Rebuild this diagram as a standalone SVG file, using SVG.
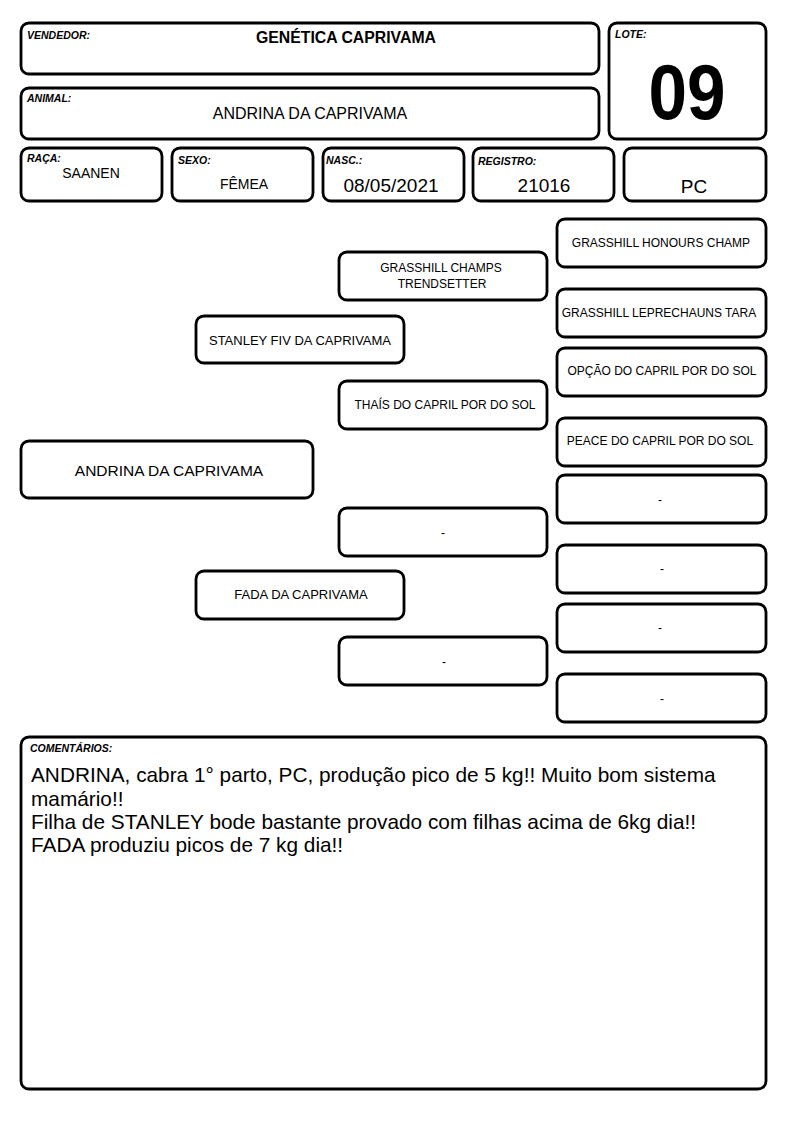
<svg xmlns="http://www.w3.org/2000/svg" width="794" height="1123" viewBox="0 0 794 1123">
<style>
.b{fill:#fff;stroke:#000;stroke-width:2.8}
.lbl{font-family:"Liberation Sans",Arial,sans-serif;font-size:10.5px;font-weight:bold;font-style:italic;fill:#000}
.t{font-family:"Liberation Sans",Arial,sans-serif;fill:#000;text-anchor:middle}
.p{font-family:"Liberation Sans",Arial,sans-serif;font-size:12px;fill:#000;text-anchor:middle}
.c{font-family:"Liberation Sans",Arial,sans-serif;font-size:20.8px;fill:#000}
</style>
<rect width="794" height="1123" fill="#fff"/>
<g id="vendedor"><rect class="b" x="21" y="23" width="578" height="51" rx="8"/><text class="lbl" x="27" y="39">VENDEDOR:</text><text class="t" x="346" y="43" font-size="15.8" font-weight="bold">GENÉTICA CAPRIVAMA</text></g>
<g id="animal"><rect class="b" x="21" y="88" width="578" height="51" rx="8"/><text class="lbl" x="27" y="102">ANIMAL:</text><text class="t" x="310" y="119" font-size="16">ANDRINA DA CAPRIVAMA</text></g>
<g id="lote"><rect class="b" x="609" y="23" width="157" height="116" rx="8"/><text class="lbl" x="615" y="38">LOTE:</text><text class="t" x="687" y="119" font-size="78" font-weight="bold" textLength="77" lengthAdjust="spacingAndGlyphs">09</text></g>
<g id="raca"><rect class="b" x="21" y="148" width="141" height="53" rx="8"/><text class="lbl" x="27" y="162">RAÇA:</text><text class="t" x="91" y="178" font-size="14">SAANEN</text></g>
<g id="sexo"><rect class="b" x="172" y="148" width="141" height="53" rx="8"/><text class="lbl" x="178" y="164">SEXO:</text><text class="t" x="244" y="189" font-size="14">FÊMEA</text></g>
<g id="nasc"><rect class="b" x="323" y="148" width="141" height="53" rx="8"/><text class="lbl" x="326" y="164">NASC.:</text><text class="t" x="391" y="192" font-size="19">08/05/2021</text></g>
<g id="registro"><rect class="b" x="473" y="148" width="141" height="53" rx="8"/><text class="lbl" x="478" y="165">REGISTRO:</text><text class="t" x="544" y="192" font-size="19">21016</text></g>
<g id="pc"><rect class="b" x="624" y="148" width="142" height="53" rx="8"/><text class="t" x="694" y="193" font-size="19">PC</text></g>

<g id="connectors"></g>

<g id="n-andrina"><rect class="b" x="21" y="441" width="292" height="57" rx="8"/><text class="t" x="169" y="476" font-size="15.5">ANDRINA DA CAPRIVAMA</text></g>
<g id="n-stanley"><rect class="b" x="196" y="316" width="208" height="47" rx="8"/><text class="t" x="300" y="345" font-size="13">STANLEY FIV DA CAPRIVAMA</text></g>
<g id="n-fada"><rect class="b" x="196" y="571" width="208" height="48" rx="8"/><text class="t" x="301" y="599" font-size="13">FADA DA CAPRIVAMA</text></g>
<g id="n-champs"><rect class="b" x="339" y="252" width="208" height="48" rx="8"/><text class="p" x="441" y="272">GRASSHILL CHAMPS</text><text class="p" x="442" y="288">TRENDSETTER</text></g>
<g id="n-thais"><rect class="b" x="339" y="381" width="208" height="48" rx="8"/><text class="p" x="445" y="409">THAÍS DO CAPRIL POR DO SOL</text></g>
<g id="n-m3"><rect class="b" x="339" y="508" width="208" height="48" rx="8"/><text class="p" x="443" y="537">-</text></g>
<g id="n-m4"><rect class="b" x="339" y="637" width="208" height="48" rx="8"/><text class="p" x="444" y="666">-</text></g>
<g id="n-honours"><rect class="b" x="557" y="219" width="209" height="48" rx="8"/><text class="p" x="661" y="247" font-size="12.8">GRASSHILL HONOURS CHAMP</text></g>
<g id="n-tara"><rect class="b" x="557" y="289" width="209" height="48" rx="8"/><text class="p" x="659" y="317">GRASSHILL LEPRECHAUNS TARA</text></g>
<g id="n-opcao"><rect class="b" x="557" y="348" width="209" height="48" rx="8"/><text class="p" x="662" y="375">OPÇÃO DO CAPRIL POR DO SOL</text></g>
<g id="n-peace"><rect class="b" x="557" y="418" width="209" height="48" rx="8"/><text class="p" x="660" y="445">PEACE DO CAPRIL POR DO SOL</text></g>
<g id="n-r5"><rect class="b" x="557" y="475" width="209" height="48" rx="8"/><text class="p" x="660" y="504">-</text></g>
<g id="n-r6"><rect class="b" x="557" y="545" width="209" height="48" rx="8"/><text class="p" x="662" y="573">-</text></g>
<g id="n-r7"><rect class="b" x="557" y="604" width="209" height="48" rx="8"/><text class="p" x="660" y="632">-</text></g>
<g id="n-r8"><rect class="b" x="557" y="674" width="209" height="48" rx="8"/><text class="p" x="662" y="703">-</text></g>

<g id="comentarios"><rect class="b" x="21" y="737" width="745" height="352" rx="8"/><text class="lbl" x="30" y="752" font-size="9.5">COMENTÁRIOS:</text>
<text class="c" x="31" y="782">ANDRINA, cabra 1° parto, PC, produção pico de 5 kg!! Muito bom sistema</text>
<text class="c" x="31" y="806">mamário!!</text>
<text class="c" x="31" y="829">Filha de STANLEY bode bastante provado com filhas acima de 6kg dia!!</text>
<text class="c" x="31" y="852">FADA produziu picos de 7 kg dia!!</text></g>
</svg>
